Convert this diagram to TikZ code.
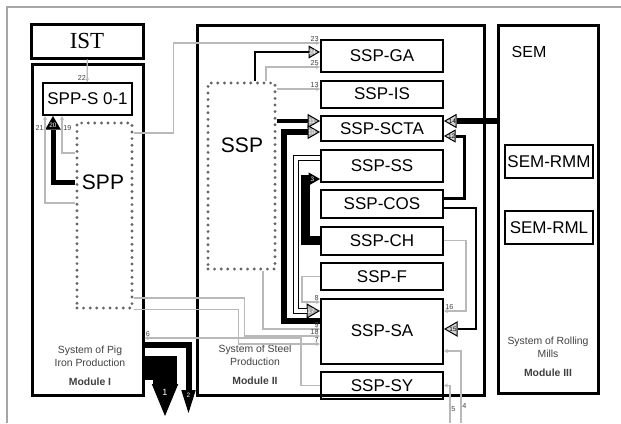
\documentclass[tikz,border=0pt]{standalone}
\usepackage{fontspec}
\setmainfont{Liberation Sans}
\newfontfamily\istfont{Liberation Serif}
\usetikzlibrary{shapes.geometric,arrows.meta,positioning}

\begin{document}
\begin{tikzpicture}[x=0.5pt,y=-0.5pt,
      node distance=3.25pt,
      modbox/.style={draw,line width=1.5pt,inner sep=0pt},
      unitbox/.style={draw,line width=1pt,minimum width=61pt,inner sep=0pt,
                      font=\fontsize{8.5}{10}\selectfont},
      dotbox/.style={draw=black!60,line width=1.6pt,dash pattern=on 0pt off 3.3pt,
                     line cap=round,inner sep=0pt},
      bigtxt/.style={font=\fontsize{10.5}{12}\selectfont},
      modtxt/.style={align=center,text=black!75,font=\fontsize{5.2}{6.5}\selectfont},
      numlbl/.style={font=\fontsize{3.6}{4}\selectfont,text=black!75,inner sep=0.4pt},
      flowline/.style={draw=gray!55,line width=0.6pt,-{Stealth[length=2pt,width=2pt]}},
      trihead/.style={isosceles triangle,isosceles triangle apex angle=60,
                      minimum size=#1,inner sep=0pt,anchor=apex,draw,line width=0.5pt,
                      fill=gray!65},
      tiplbl/.style={font=\fontsize{3.2}{4}\selectfont,inner sep=0pt,text=white}]
    \useasboundingbox (0,0) rectangle (621,423);
    \draw[gray!70,line width=0.6pt] (7,423) -- (7,7) -- (621,7);

    % modules
    \node[modbox,minimum width=56pt,minimum height=17pt,
          font=\istfont\fontsize{11.5}{13}\selectfont] (ist) at (87,41) {IST};
    \node[modbox,minimum width=55.5pt,minimum height=165.5pt] (mod1) at (87.5,229.5) {};
    \node[modbox,minimum width=143.5pt,minimum height=185pt] (mod2) at (340.5,210) {};
    \node[modbox,minimum width=50pt,minimum height=184pt] (mod3) at (548,209) {};

    % module I
    \node[unitbox,minimum width=44.5pt,minimum height=16pt] (spps) at (87.5,99) {SPP-S 0-1};
    \node[dotbox,minimum width=27.5pt,minimum height=92.5pt] (sppbox) at (104.5,215.5) {};
    \node[bigtxt] (spp) at (103,182) {SPP};
    \node[modtxt] (m1txt) at (90,366) {System of Pig\\Iron Production\\[3pt]\textbf{Module I}};

    % module II
    \node[dotbox,minimum width=33.5pt,minimum height=93pt] (sspbox) at (241.5,176) {};
    \node[bigtxt] (ssp) at (242,145) {SSP};
    \node[unitbox,minimum height=16pt] (ga) at (382,56) {SSP-GA};
    \node[unitbox,minimum height=13.5pt,below=of ga] (is) {SSP-IS};
    \node[unitbox,minimum height=12.5pt,below=of is] (scta) {SSP-SCTA};
    \node[unitbox,minimum height=16pt,below=of scta] (ss) {SSP-SS};
    \node[unitbox,minimum height=14pt,below=of ss] (cos) {SSP-COS};
    \node[unitbox,minimum height=14pt,below=of cos] (ch) {SSP-CH};
    \node[unitbox,minimum height=13.5pt,below=of ch] (f) {SSP-F};
    \node[unitbox,minimum height=32.5pt,below=of f] (sa) {SSP-SA};
    \node[unitbox,minimum height=13.5pt,below=of sa] (sy) {SSP-SY};
    \node[modtxt] (m2txt) at (255,365) {System of Steel\\Production\\[3pt]\textbf{Module II}};

    % module III
    \node[font=\fontsize{8}{9}\selectfont] (sem) at (529,52) {SEM};
    \node[unitbox,minimum width=44pt,minimum height=16.5pt] (rmm) at (549,161.5) {SEM-RMM};
    \node[unitbox,minimum width=44pt,minimum height=16.5pt] (rml) at (549,227.5) {SEM-RML};
    \node[modtxt] (m3txt) at (548,357) {System of Rolling\\Mills\\[3pt]\textbf{Module III}};

    % arrow heads
    \node[trihead=6pt,fill=black,shape border rotate=90,label={[tiplbl]center:20}]
      (h20) at ([xshift=-17.25pt]spps.south) {};
    \node[trihead=5pt,label={[tiplbl]center:24}] (h24) at ([yshift=2pt]ga.west) {};
    \node[trihead=5.5pt,label={[tiplbl]center:11}] (h11) at ([yshift=3.75pt]scta.west) {};
    \node[trihead=5.5pt,label={[tiplbl]center:10}] (h10) at ([yshift=-1.75pt]scta.west) {};
    \node[trihead=5pt,fill=black,label={[tiplbl]center:3}] (h3) at ([yshift=-6.75pt]ss.west) {};
    \node[trihead=6pt,label={[tiplbl]center:17}] (h17) at ([yshift=10pt]sa.west) {};
    \node[trihead=5.5pt,fill=gray!35,shape border rotate=180,label={[tiplbl,text=black]center:14}]
      (h14) at ([yshift=3.75pt]scta.east) {};
    \node[trihead=5pt,fill=gray!35,shape border rotate=180,label={[tiplbl,text=black]center:12}]
      (h12) at ([yshift=-3.75pt]scta.east) {};
    \node[trihead=6pt,fill=gray!35,shape border rotate=180,label={[tiplbl,text=black]center:15}]
      (h15) at ([yshift=1pt]sa.east) {};
    \node[trihead=12.5pt,fill=black,isosceles triangle apex angle=45,shape border rotate=270,
          label={[tiplbl,font=\fontsize{4.5}{5}\selectfont]center:1}] (h1) at (165,416) {};
    \node[trihead=6.5pt,fill=black,isosceles triangle apex angle=35,shape border rotate=270,
          label={[tiplbl]center:2}] (h2) at (188.5,413) {};

    % ends of the thin flows
    \coordinate (c23) at ([yshift=6.5pt]ga.west);
    \coordinate (c25) at ([yshift=-5.5pt]ga.west);
    \coordinate (c13) at ([yshift=2.5pt]is.west);
    \coordinate (c8)  at ([yshift=14.5pt]sa.west);
    \coordinate (c9)  at ([yshift=1pt]sa.west);
    \coordinate (c18) at ([yshift=-2.5pt]sa.west);
    \coordinate (c7)  at ([yshift=-6.5pt]sa.west);
    \coordinate (c10) at ([yshift=5pt]sa.west);
    \coordinate (c16) at ([yshift=10pt]sa.east);
    \coordinate (c4)  at ([yshift=-10pt]sa.east);
    \coordinate (c6)  at ([yshift=-54.25pt]mod1.east);
    \coordinate (o4)  at (461,423);
    \coordinate (o5)  at (450,423);

    % heavy flows
    \draw[line width=2.5pt] (sppbox.west |- spp) -| (h20);
    \draw[line width=1pt] ([xshift=6.75pt]sspbox.north) |- (h24);
    \draw[line width=2pt] (sspbox.east |- h11) -- (h11);
    \draw[line width=2.75pt] (c10) -- ++(-36,0) |- (h10);
    \draw[double,double distance=1.8pt,line width=0.6pt] ([yshift=3.75pt]ss.west) -- ++(-24,0) |- (h17);
    \draw[line width=4.5pt] (ch.west) -- ++(-15,0) |- (h3);
    \draw[line width=3pt] (mod3.west |- h14) -- (h14);
    \draw[line width=1.5pt] ([yshift=3pt]cos.east) -- ++(20,0) |- (h12);
    \draw[line width=1.1pt] ([yshift=-2pt]cos.east) -- ++(32,0) |- (h15);
    \draw[line width=12pt] ([yshift=-69.25pt]mod1.east) -| (h1);
    \draw[line width=3pt] ([yshift=-57.75pt]mod1.east) -| (h2);

    % thin flows
    \draw[flowline] (ist) -- (spps) node[numlbl,pos=0.8,left] {22};
    \draw[flowline] ([yshift=6.25pt]sppbox.west) -| ([xshift=-21.25pt]spps.south)
      node[numlbl,below left=4pt and 0pt] {21};
    \draw[flowline] ([yshift=31.25pt]sppbox.west) -| ([xshift=-12.75pt]spps.south)
      node[numlbl,below right=4pt and 0pt] {19};
    \draw[flowline] ([yshift=41.25pt]sppbox.east) -- ++(40,0) |- (c23) node[numlbl,above left] {23};
    \draw[flowline] ([xshift=12.25pt]sspbox.north) |- (c25) node[numlbl,above left] {25};
    \draw[flowline] (sspbox.east |- c13) -- (c13) node[numlbl,above left] {13};
    \draw[flowline] (f.west) -- ++(-18,0) |- (c8) node[numlbl,above left] {8};
    \draw[flowline] ([xshift=10.75pt]sspbox.south) |- (c9) node[numlbl,above left] {9};
    \draw[flowline] ([yshift=-41.25pt]sppbox.east) -- ++(111,0) |- (c18) node[numlbl,above left] {18};
    \draw[flowline] (sppbox.south east) -- ++(105,0) |- (c7) node[numlbl,above left] {7};
    \draw[flowline] (sy.west) -- ++(-19,0) |- (c6) node[numlbl,above right] {6};
    \draw[flowline] (ch.east) -- ++(22,0) |- (c16) node[numlbl,above right] {16};
    \draw[flowline] (o4) |- (c4) node[numlbl,pos=0.116,right] {4};
    \draw[flowline] (o5) |- (sy.east) node[numlbl,pos=0.187,right] {5};
  \end{tikzpicture}
\end{document}
